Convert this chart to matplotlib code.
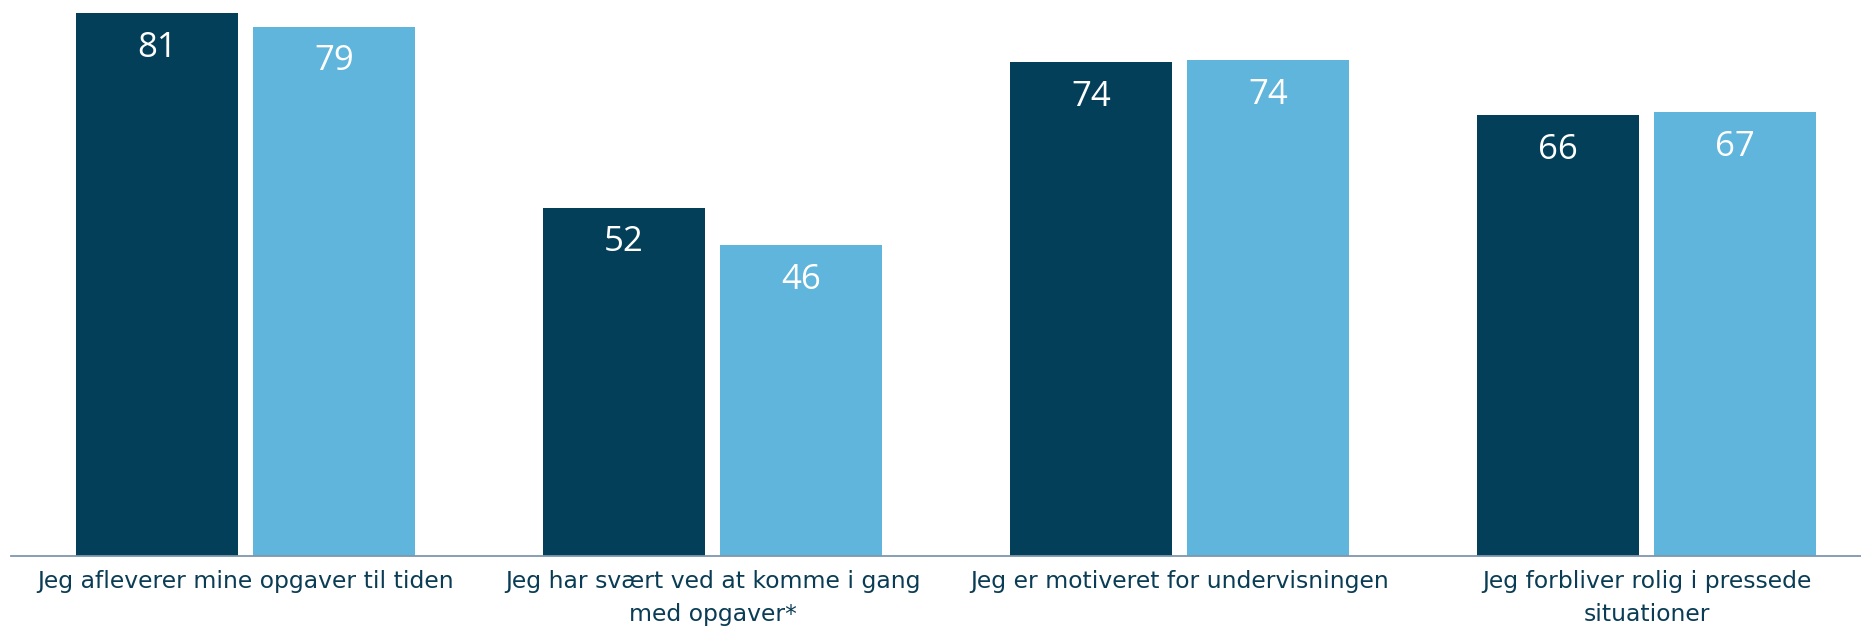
import matplotlib
matplotlib.use("Agg")
import matplotlib.pyplot as plt
import numpy as np

categories = [
    "Jeg afleverer mine opgaver til tiden",
    "Jeg har svært ved at komme i gang\nmed opgaver*",
    "Jeg er motiveret for undervisningen",
    "Jeg forbliver rolig i pressede\nsituationer",
]
series_a = [81, 52, 73.7, 65.8]
series_b = [79, 46.4, 74.0, 66.3]
labels_a = ["81", "52", "74", "66"]
labels_b = ["79", "46", "74", "67"]

dark = "#033F59"
light = "#5FB5DB"
text_col = "#0A3D55"

fig = plt.figure(figsize=(18.61, 6.29), dpi=100)
ax = fig.add_axes([11 / 1861, 1 - 556 / 629, (1861 - 11) / 1861, 556 / 629])

x = np.arange(len(categories))
w = 0.347
off = 0.1895
ba = ax.bar(x - off, series_a, w, color=dark)
bb = ax.bar(x + off, series_b, w, color=light)

for bars, labs in ((ba, labels_a), (bb, labels_b)):
    for r, lab in zip(bars, labs):
        ax.annotate(lab, (r.get_x() + r.get_width() / 2, r.get_height()),
                    xytext=(0, -25), textcoords="offset points",
                    ha="center", va="center", color="white",
                    fontsize=25, family=["Open Sans", "DejaVu Sans"])

ax.set_xlim(-0.502, 3.459)
ax.set_ylim(0, 556 / 6.7)
ax.set_yticks([])
ax.set_xticks(x)
ax.set_xticklabels(categories, fontsize=16.9, color=text_col,
                   family=["DejaVu Sans"], linespacing=1.55)
ax.tick_params(axis="x", length=0, pad=10)
for s in ("top", "right", "left"):
    ax.spines[s].set_visible(False)
ax.spines["bottom"].set_color("#8096AE")
ax.spines["bottom"].set_linewidth(1.3)

fig.savefig("out.png", dpi=100)
